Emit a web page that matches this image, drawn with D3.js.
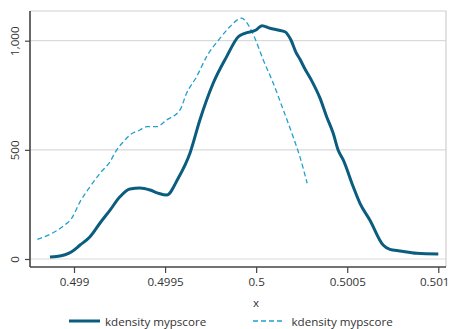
<!DOCTYPE html>
<html>
<head>
<meta charset="utf-8">
<script src="https://cdn.jsdelivr.net/npm/d3@7"></script>
<style>
  html, body { margin: 0; padding: 0; background: #fff; }
  svg { display: block; font-family: "Open Sans", sans-serif; }
</style>
</head>
<body>
<svg id="chart" width="451" height="329"></svg>
<script>
// Kernel density estimates of mypscore (two samples)
const xTicks = [0.499, 0.4995, 0.5, 0.5005, 0.501];
const xTickLabels = ["0.499", "0.4995", "0.5", "0.5005", "0.501"];
const yTicks = [0, 500, 1000];
const yTickLabels = ["0", "500", "1,000"];
const seriesNames = ["kdensity mypscore", "kdensity mypscore"];

const solidX = [0.498868, 0.498905, 0.498987, 0.499033, 0.499088, 0.499143, 0.499198, 0.499252, 0.499307, 0.499362,
  0.499417, 0.499461, 0.499509, 0.499572, 0.499637, 0.499691, 0.499764, 0.499838, 0.499902, 0.499938,
  0.499999, 0.500032, 0.500076, 0.500120, 0.500158, 0.500191, 0.500218, 0.500240, 0.500268, 0.500306,
  0.500350, 0.500387, 0.500423, 0.500450, 0.500478, 0.500533, 0.500570, 0.500624, 0.500697, 0.500734,
  0.500789, 0.500881, 0.501000];
const solidY = [9, 11, 33, 64, 102, 165, 224, 285, 321, 325,
  316, 302, 293, 370, 486, 637, 805, 927, 1018, 1034,
  1049, 1069, 1057, 1049, 1041, 1003, 948, 916, 870, 815,
  738, 652, 576, 499, 454, 331, 255, 179, 64, 44,
  37, 26, 23];

const dashX = [0.498799, 0.498941, 0.498987, 0.499033, 0.499088, 0.499143, 0.499198, 0.499234, 0.499271, 0.499307,
  0.499362, 0.499399, 0.499454, 0.499509, 0.499582, 0.499618, 0.499673, 0.499728, 0.499801, 0.499856,
  0.499902, 0.499920, 0.499957, 0.499993, 0.500039, 0.500094, 0.500149, 0.500203, 0.500240, 0.500280];
const dashY = [90, 151, 186, 262, 331, 393, 446, 499, 537, 568,
  591, 606, 606, 637, 683, 759, 835, 927, 1011, 1064,
  1098, 1103, 1072, 1011, 912, 805, 683, 560, 469, 347];

const solidColor = "#0b5d80";
const dashColor = "#22a0cc";
const fontSize = 11.6;
const textColor = "#333";

const svg = d3.select("#chart");

const x = d3.scaleLinear().domain([0.499, 0.501]).range([74, 438.3]);
const y = d3.scaleLinear().domain([0, 1000]).range([259, 40.7]);

const plotLeft = 30, plotRight = 446, plotTop = 11, axisY = 267, width = 451;

// gridlines
svg.append("g").selectAll("line").data(yTicks).join("line")
  .attr("x1", plotLeft).attr("x2", plotRight)
  .attr("y1", d => y(d)).attr("y2", d => y(d))
  .attr("stroke", "#dadada").attr("stroke-width", 1.2);

// plot region frame (top & right)
svg.append("path")
  .attr("d", `M${plotLeft},${plotTop}H${plotRight}V${axisY}`)
  .attr("fill", "none").attr("stroke", "#d0d0d0").attr("stroke-width", 1.2);

// x axis
const xAxis = d3.axisBottom(x).tickValues(xTicks)
  .tickFormat((d, i) => xTickLabels[i]).tickSize(6).tickSizeOuter(0);
const gx = svg.append("g").attr("transform", `translate(0,${axisY})`).call(xAxis);
gx.select(".domain").remove();
gx.append("line").attr("x1", plotLeft).attr("x2", plotRight).attr("y1", 0).attr("y2", 0)
  .attr("stroke", "#444").attr("stroke-width", 1.6);
gx.selectAll(".tick line").attr("stroke", "#444").attr("stroke-width", 1.2);
gx.selectAll(".tick text").attr("fill", textColor).attr("font-size", fontSize)
  .attr("font-family", "Open Sans, sans-serif").attr("dy", "0.71em").attr("y", 10.5);
// keep the last label inside the canvas
gx.selectAll(".tick text").filter(d => x(d) + 16 > width)
  .attr("text-anchor", "end").attr("x", d => (width - 2) - x(d));

// y axis
const yAxis = d3.axisLeft(y).tickValues(yTicks)
  .tickFormat((d, i) => yTickLabels[i]).tickSize(5).tickSizeOuter(0);
const gy = svg.append("g").attr("transform", `translate(${plotLeft},0)`).call(yAxis);
gy.select(".domain").remove();
gy.append("line").attr("x1", 0).attr("x2", 0).attr("y1", plotTop).attr("y2", axisY)
  .attr("stroke", "#444").attr("stroke-width", 1.6);
gy.selectAll(".tick line").attr("stroke", "#444").attr("stroke-width", 1.2);
gy.selectAll(".tick text")
  .attr("fill", textColor).attr("font-size", fontSize).attr("font-family", "Open Sans, sans-serif")
  .attr("x", null)
  .attr("text-anchor", "middle")
  .attr("transform", "translate(-11,0) rotate(-90)")
  .attr("dy", "0.35em").attr("y", -4);

// axis title
svg.append("text").attr("x", x(0.5)).attr("y", 306.5)
  .attr("text-anchor", "middle").attr("font-size", fontSize).attr("fill", textColor).text("x");

// density curves
const line = d3.line().x(d => x(d[0])).y(d => y(d[1])).curve(d3.curveMonotoneX);
const solidData = solidX.map((v, i) => [v, solidY[i]]);
const dashData = dashX.map((v, i) => [v, dashY[i]]);

svg.append("path").datum(dashData).attr("d", line)
  .attr("fill", "none").attr("stroke", dashColor).attr("stroke-width", 1.3)
  .attr("stroke-dasharray", "5,3");
svg.append("path").datum(solidData).attr("d", line)
  .attr("fill", "none").attr("stroke", solidColor).attr("stroke-width", 3)
  .attr("stroke-linejoin", "round");

// legend
const legend = svg.append("g");
const legendItems = [
  { x1: 69, x2: 100, tx: 105, color: solidColor, w: 3, dash: null, name: seriesNames[0] },
  { x1: 253, x2: 285, tx: 291.5, color: dashColor, w: 1.3, dash: "5,3", name: seriesNames[1] }
];
legendItems.forEach(it => {
  legend.append("line").attr("x1", it.x1).attr("x2", it.x2).attr("y1", 321).attr("y2", 321)
    .attr("stroke", it.color).attr("stroke-width", it.w).attr("stroke-dasharray", it.dash);
  legend.append("text").attr("x", it.tx).attr("y", 325.5).attr("font-size", fontSize)
    .attr("fill", textColor).text(it.name);
});
</script>
</body>
</html>
